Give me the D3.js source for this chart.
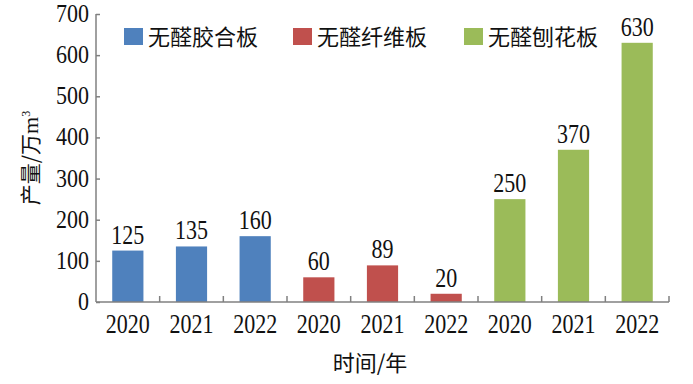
<!DOCTYPE html>
<html>
<head>
<meta charset="utf-8">
<script src="https://cdn.jsdelivr.net/npm/d3@7"></script>
<style>
  body { margin: 0; background: #fff; }
  svg text { fill: #111; }
</style>
</head>
<body>
<div id="chart"></div>
<script>
const seriesNames = ['无醛胶合板', '无醛纤维板', '无醛刨花板'];
const years = ['2020', '2021', '2022'];
const plywood = [125, 135, 160];
const fiberboard = [60, 89, 20];
const particleboard = [250, 370, 630];
const yTicks = [0, 100, 200, 300, 400, 500, 600, 700];
const colors = ['#4f81bd', '#c0504d', '#9bbb59'];

const W = 693, H = 384;
const plotLeft = 96, plotRight = 669, plotTop = 14, plotBottom = 302;
const numFont = '"Liberation Serif", "Times New Roman", serif';
const cjkFont = '"Noto Sans CJK SC", sans-serif';

// flat list of bars built from the arrays
const allSeries = [plywood, fiberboard, particleboard];
const bars = [];
allSeries.forEach(function(vals, s) {
  vals.forEach(function(v, i) {
    bars.push({ key: s + '-' + years[i], year: years[i], value: v, s: s });
  });
});

const svg = d3.select('#chart').append('svg')
  .attr('width', W).attr('height', H);

const x = d3.scaleBand()
  .domain(bars.map(d => d.key))
  .range([plotLeft, plotRight])
  .paddingInner(0.51).paddingOuter(0.255);

const y = d3.scaleLinear().domain([0, 700]).range([plotBottom, plotTop]);

// stretched serif digits, like the source image
function numText(g, tx, ty, str, anchor, sy) {
  g.append('text')
    .attr('transform', 'translate(' + tx + ',' + ty + ') scale(1,' + (sy || 1.25) + ')')
    .attr('text-anchor', anchor)
    .style('font-family', numFont)
    .style('font-size', '22px')
    .text(str);
}

// bars
svg.selectAll('rect.bar').data(bars).enter().append('rect')
  .attr('class', 'bar')
  .attr('x', d => x(d.key))
  .attr('y', d => y(d.value))
  .attr('width', x.bandwidth())
  .attr('height', d => y(0) - y(d.value))
  .attr('fill', d => colors[d.s]);

// value labels
bars.forEach(function(d) {
  numText(svg, x(d.key) + x.bandwidth() / 2, y(d.value) - 7, d.value, 'middle');
});

// y axis
const yAxis = svg.append('g')
  .attr('transform', 'translate(' + plotLeft + ',0)')
  .call(d3.axisRight(y).tickValues(yTicks).tickSize(4).tickFormat(''));
yAxis.selectAll('path, line').attr('stroke', '#808080').attr('stroke-width', 1.5);
yAxis.select('.domain').attr('d', 'M0,' + plotTop + 'V' + plotBottom);
yTicks.forEach(function(t) {
  numText(svg, plotLeft - 7, y(t) + 8, t, 'end', 1.12);
});

// x axis with ticks between categories
const boundaries = d3.range(bars.length + 1).map(i => plotLeft + i * (plotRight - plotLeft) / bars.length);
svg.append('line')
  .attr('x1', plotLeft).attr('x2', plotRight)
  .attr('y1', plotBottom).attr('y2', plotBottom)
  .attr('stroke', '#808080').attr('stroke-width', 1.5);
svg.selectAll('line.xt').data(boundaries.slice(1)).enter().append('line')
  .attr('class', 'xt')
  .attr('x1', d => d).attr('x2', d => d)
  .attr('y1', plotBottom).attr('y2', plotBottom - 6)
  .attr('stroke', '#808080').attr('stroke-width', 1.5);
bars.forEach(function(d) {
  numText(svg, x(d.key) + x.bandwidth() / 2, plotBottom + 31, d.year, 'middle');
});

// axis titles
svg.append('text')
  .attr('x', 370).attr('y', 371)
  .attr('text-anchor', 'middle')
  .style('font-family', cjkFont)
  .style('font-size', '22px')
  .text('时间/年');

const yt = svg.append('text')
  .attr('transform', 'translate(38,158) rotate(-90)')
  .attr('text-anchor', 'middle')
  .style('font-family', cjkFont)
  .style('font-size', '21px');
yt.append('tspan').text('产量/万');
yt.append('tspan').style('font-family', numFont).style('font-size', '22px').text('m');
yt.append('tspan').attr('dy', -8).style('font-family', numFont).style('font-size', '12px').text('3');

// legend
const legendX = [124, 293, 464];
seriesNames.forEach(function(name, i) {
  svg.append('rect')
    .attr('x', legendX[i]).attr('y', 28)
    .attr('width', 19).attr('height', 17)
    .attr('fill', colors[i]);
  svg.append('text')
    .attr('x', legendX[i] + 24).attr('y', 45)
    .style('font-family', cjkFont)
    .style('font-size', '22px')
    .text(name);
});
</script>
</body>
</html>
